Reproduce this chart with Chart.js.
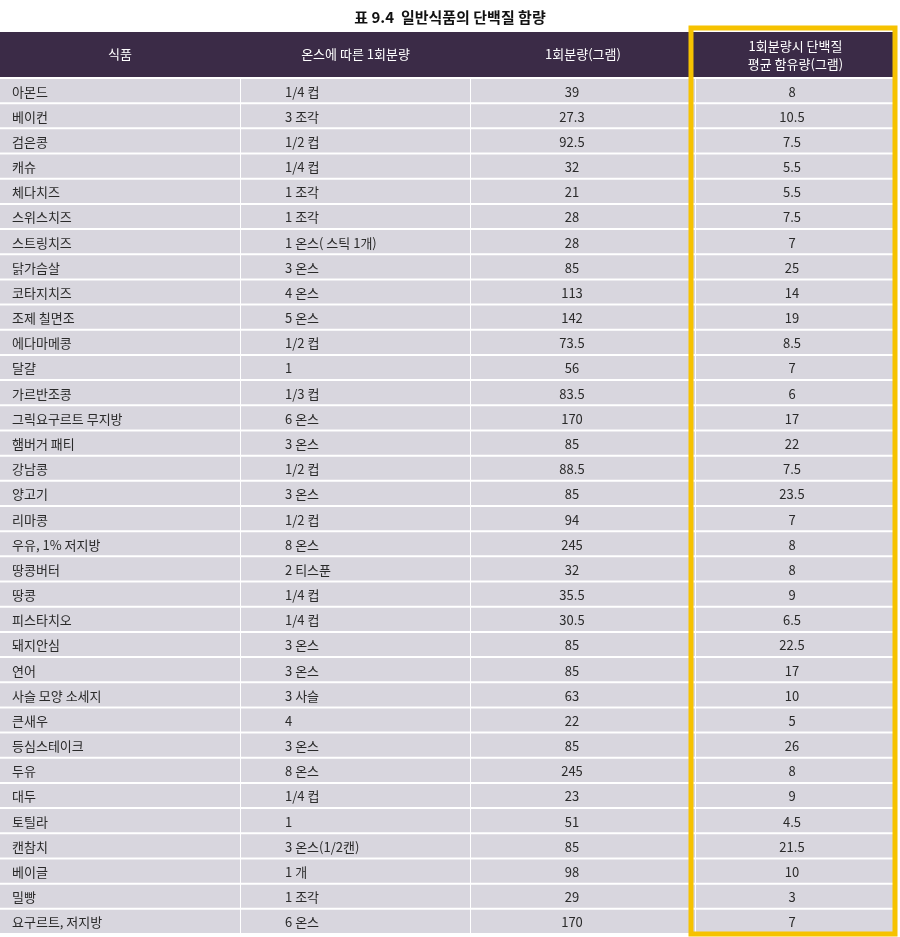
<!DOCTYPE html>
<html><head><meta charset="utf-8">
<script src="https://cdn.jsdelivr.net/npm/chart.js@4"></script>
<style>body{margin:0;background:#fff}#wrap{width:900px;height:937px}</style>
</head><body><div id="wrap"><canvas id="tbl"></canvas></div>
<script>
const foods = ['아몬드','베이컨','검은콩','캐슈','체다치즈','스위스치즈','스트링치즈','닭가슴살','코타지치즈','조제 칠면조','에다마메콩','달걀','가르반조콩','그릭요구르트 무지방','햄버거 패티','강남콩','양고기','리마콩','우유, 1% 저지방','땅콩버터','땅콩','피스타치오','돼지안심','연어','사슬 모양 소세지','큰새우','등심스테이크','두유','대두','토틸라','캔참치','베이글','밀빵','요구르트, 저지방'];
const servings = ['1/4 컵','3 조각','1/2 컵','1/4 컵','1 조각','1 조각','1 온스( 스틱 1개)','3 온스','4 온스','5 온스','1/2 컵','1','1/3 컵','6 온스','3 온스','1/2 컵','3 온스','1/2 컵','8 온스','2 티스푼','1/4 컵','1/4 컵','3 온스','3 온스','3 사슬','4','3 온스','8 온스','1/4 컵','1','3 온스(1/2캔)','1 개','1 조각','6 온스'];
const grams = [39,27.3,92.5,32,21,28,28,85,113,142,73.5,56,83.5,170,85,88.5,85,94,245,32,35.5,30.5,85,85,63,22,85,245,23,51,85,98,29,170];
const protein = [8,10.5,7.5,5.5,5.5,7.5,7,25,14,19,8.5,7,6,17,22,7.5,23.5,7,8,8,9,6.5,22.5,17,10,5,26,8,9,4.5,21.5,10,3,7];
const headers = ['식품','온스에 따른 1회분량','1회분량(그램)',['1회분량시 단백질','평균 함유량(그램)']];
const title = '표 9.4  일반식품의 단백질 함량';

// column edges on a 0..900 x scale
const cols = [[0,240],[241,470],[471,695],[696,895]];
const font = '"Noto Sans CJK KR", "Noto Sans", sans-serif';

const cellBg = cols.map(c => ({
    data: foods.map(() => c),
    backgroundColor: '#d8d6de',
    grouped: false,
    barPercentage: 1, categoryPercentage: 0.92
}));

const textPlugin = {
    id: 'tableText',
    afterDatasetsDraw(chart) {
        const ctx = chart.ctx, x = chart.scales.x, y = chart.scales.y;
        ctx.save();
        // title
        ctx.fillStyle = '#111';
        ctx.font = 'bold 15px ' + font;
        ctx.textAlign = 'center'; ctx.textBaseline = 'middle';
        ctx.fillText(title, 450, 17);
        // header
        ctx.fillStyle = '#3b2b47';
        ctx.fillRect(0, 32, 895, 45);
        ctx.fillStyle = '#fff';
        ctx.font = '13px ' + font;
        headers.forEach((h, i) => {
            const cx = (x.getPixelForValue(cols[i][0]) + x.getPixelForValue(cols[i][1])) / 2;
            if (Array.isArray(h)) { ctx.fillText(h[0], cx, 46); ctx.fillText(h[1], cx, 64); }
            else ctx.fillText(h, i === 0 ? 120 : cx, 54);
        });
        // body
        ctx.fillStyle = '#2a2a2a';
        ctx.font = '13px ' + font;
        foods.forEach((f, i) => {
            const py = y.getPixelForValue(i) + 1;
            ctx.textAlign = 'left';
            ctx.fillText(f, x.getPixelForValue(12), py);
            ctx.fillText(servings[i], x.getPixelForValue(285), py);
            ctx.textAlign = 'center';
            ctx.fillText(String(grams[i]), x.getPixelForValue(572), py);
            ctx.fillText(String(protein[i]), x.getPixelForValue(792), py);
        });
        // highlight box around protein column
        ctx.strokeStyle = '#f6c200';
        ctx.lineWidth = 5;
        ctx.strokeRect(691, 28, 204, 906);
        ctx.restore();
    }
};

new Chart(document.getElementById('tbl').getContext('2d'), {
    type: 'bar',
    data: { labels: foods, datasets: cellBg },
    options: {
        indexAxis: 'y',
        responsive: true, maintainAspectRatio: false,
        animation: false,
        layout: { padding: { top: 78, bottom: 3, left: 0, right: 0 } },
        scales: {
            x: { type: 'linear', min: 0, max: 900, display: false },
            y: { display: false, offset: true }
        },
        plugins: { legend: { display: false }, tooltip: { enabled: false } }
    },
    plugins: [textPlugin]
});
</script></body></html>
